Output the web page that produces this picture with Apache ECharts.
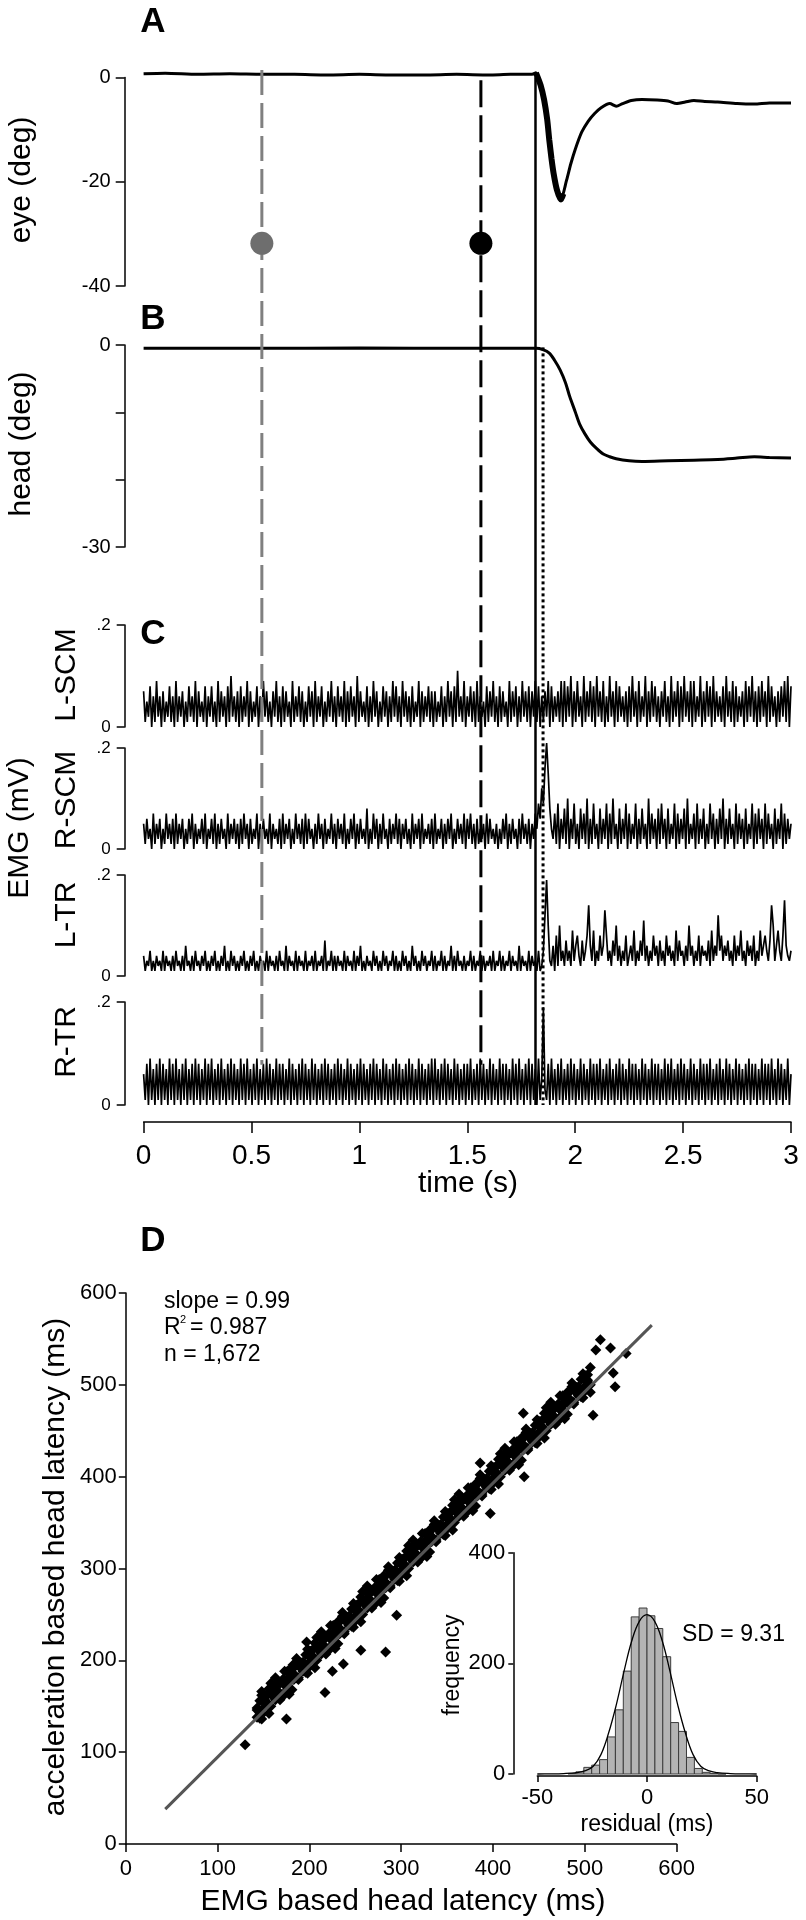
<!DOCTYPE html>
<html><head><meta charset="utf-8">
<script src="https://cdn.jsdelivr.net/npm/echarts@6/dist/echarts.min.js"></script>
<style>html,body{margin:0;padding:0;background:#fff}#c{width:806px;height:1920px}</style>
</head><body><div id="c"></div><script>
// ---------- Panel A: eye position (deg) vs time (s) ----------
const eyeTrace = [[0,0.7],[0.1,0.8],[0.25,0.6],[0.4,0.7],[0.55,0.6],[0.7,0.6],[0.85,0.5],[1.0,0.6],[1.15,0.5],[1.3,0.5],[1.45,0.6],[1.6,0.5],[1.7,0.6],[1.8,0.6],[1.818,0.9],[1.84,-1.5],[1.856,-4.3],[1.87,-8],[1.88,-12],[1.89,-15.5],[1.9,-18.4],[1.915,-21.5],[1.934,-23.4],[1.96,-19.7],[1.98,-16.5],[2.0,-13.8],[2.03,-10.5],[2.06,-8.4],[2.09,-6.9],[2.12,-5.8],[2.16,-5.0],[2.19,-5.5],[2.22,-5.0],[2.26,-4.4],[2.31,-4.2],[2.38,-4.3],[2.43,-4.5],[2.47,-5.0],[2.51,-4.7],[2.55,-4.4],[2.6,-4.6],[2.66,-4.7],[2.75,-5.0],[2.83,-5.1],[2.9,-4.9],[3.0,-4.9]];
const eyeSaccade = [[1.818,0.9],[1.84,-1.5],[1.856,-4.3],[1.87,-8],[1.88,-12],[1.89,-15.5],[1.9,-18.4],[1.915,-21.5],[1.934,-23.4],[1.945,-22.3]];
const targetTimes = [0.548, 1.563];
const targetEye = [-31.8, -31.8];
// ---------- Panel B: head position (deg) ----------
const headTrace = [[0,-0.5],[0.5,-0.5],[1,-0.45],[1.5,-0.5],[1.82,-0.5],[1.85,-0.7],[1.88,-1.2],[1.905,-2.3],[1.93,-3.7],[1.955,-5.6],[1.975,-7.7],[2.0,-9.9],[2.02,-11.7],[2.045,-13.2],[2.07,-14.4],[2.1,-15.4],[2.13,-16.2],[2.16,-16.6],[2.19,-16.9],[2.25,-17.2],[2.31,-17.3],[2.43,-17.2],[2.55,-17.1],[2.66,-17.0],[2.75,-16.8],[2.83,-16.6],[2.9,-16.7],[3.0,-16.8]];
// ---------- Panel C: EMG, units of 0.01 mV, sampled every emgDt s ----------
const emgDt = 0.0075;
const emgLSCM = [7,1,5,2,8,0,6,1,9,2,6,0,7,1,5,2,8,1,6,0,9,1,6,2,7,0,5,1,8,2,6,1,9,0,7,2,5,1,8,0,6,2,8,1,5,0,9,1,7,2,6,0,8,1,10,2,6,1,7,0,8,1,6,2,9,0,7,1,5,2,8,0,6,1,9,2,7,1,5,0,7,2,9,1,6,0,8,1,7,2,5,0,9,1,6,2,8,1,7,0,5,1,8,2,7,0,9,1,6,2,8,0,5,1,7,2,9,1,6,0,8,2,6,1,9,0,7,1,8,2,6,0,10,1,7,2,5,1,8,0,6,1,9,2,7,0,5,1,8,2,7,0,6,1,9,2,8,1,6,0,9,2,7,1,6,0,8,1,5,2,9,0,7,1,6,2,8,1,7,0,7,1,5,2,8,0,6,1,9,2,7,0,8,1,11,2,6,1,9,0,6,2,8,1,7,0,9,1,6,2,5,0,8,1,7,2,9,1,6,0,8,1,7,2,5,0,9,1,7,2,8,0,6,1,9,2,7,1,8,0,7,2,9,1,8,0,6,1,7,2,9,0,8,1,6,2,7,1,9,0,9,1,8,2,10,0,7,1,9,2,6,0,10,1,7,2,9,1,8,0,10,2,7,1,9,0,6,1,10,2,7,0,9,1,8,2,6,1,7,0,8,1,10,2,7,0,9,1,6,2,10,0,7,1,9,2,8,1,6,0,7,2,9,1,6,0,10,1,7,2,9,0,8,1,10,2,7,1,9,0,9,1,6,2,10,0,7,1,9,2,8,0,10,1,7,2,6,1,8,0,10,2,7,1,9,0,8,1,6,2,7,0,9,1,8,2,10,1,7,0,8,1,9,2,7,0,10,1,8,2,6,0,7,1,8,2,9,1,10,0,8];
const emgRSCM = [5,1,6,2,4,0,7,1,5,2,6,0,4,1,7,2,5,1,6,0,7,1,5,2,6,0,4,1,6,2,7,0,5,1,4,2,6,1,7,0,4,2,6,1,7,0,5,1,6,2,4,0,7,1,5,2,6,1,5,0,6,1,7,2,5,0,6,1,4,2,7,0,5,1,6,2,4,1,7,0,5,2,4,1,6,0,7,1,5,2,6,0,4,1,7,2,5,1,6,0,7,1,6,2,4,0,5,1,7,2,5,0,6,1,4,2,7,1,5,0,6,2,5,1,7,0,4,1,6,2,7,0,5,1,6,2,4,1,8,0,4,1,7,2,6,0,5,1,7,2,4,0,6,1,5,2,7,1,6,0,5,2,6,1,4,0,7,1,5,2,6,0,7,1,4,2,5,1,6,0,7,1,4,2,6,0,5,1,6,2,7,0,4,1,6,2,5,1,7,0,6,2,7,1,5,0,6,1,4,2,5,0,7,1,6,2,4,1,5,0,4,1,6,2,7,0,5,1,6,2,4,0,6,1,7,2,5,1,6,0,5,2,7,4,9,6,12,9,16,21,15,8,4,2,7,1,9,0,6,2,8,1,10,0,6,2,9,1,5,0,8,2,7,1,10,0,6,1,9,2,5,0,8,1,6,2,9,0,7,1,10,2,5,0,8,1,6,2,9,0,7,1,5,2,9,0,6,1,8,2,5,0,10,1,7,2,6,0,8,1,9,2,6,0,8,1,5,2,9,0,7,1,6,2,8,0,10,1,5,2,7,0,9,1,6,2,8,0,5,1,9,2,7,0,6,1,8,2,10,0,6,1,8,2,5,0,9,1,7,2,6,0,8,1,5,2,9,0,7,1,8,2,6,0,9,1,7,2,5,0,8,1,6,2,9,0,7,1,6,2,5];
const emgLTR = [4,1,3,2,5,1,3,1,4,2,3,1,5,1,4,2,3,1,4,1,5,2,3,1,4,1,6,2,3,1,4,1,5,2,3,1,4,2,5,1,3,1,4,2,5,1,3,1,4,2,6,1,3,1,5,2,4,1,3,1,4,2,5,1,3,1,4,2,5,1,3,1,4,2,3,1,5,1,4,2,3,1,4,1,5,2,3,1,6,1,4,2,3,1,5,1,4,2,3,1,5,1,3,2,4,1,5,1,3,2,4,1,7,1,3,2,5,1,4,1,4,2,3,1,5,1,4,2,3,1,5,1,4,2,6,1,3,1,4,2,3,1,5,2,4,1,3,1,5,2,4,1,3,2,5,1,4,1,3,1,5,2,4,1,3,1,6,2,4,1,3,1,5,2,4,1,3,2,5,1,4,1,3,2,5,1,4,1,3,2,6,1,4,1,5,2,3,1,4,1,3,2,5,1,4,1,3,2,5,1,4,1,3,2,4,1,5,1,3,2,5,1,4,1,3,2,5,1,4,2,3,1,6,1,4,2,3,1,5,1,4,2,3,1,5,1,2,5,12,19,10,3,2,6,1,8,2,10,3,5,2,7,3,5,2,9,3,6,8,4,2,7,3,5,8,14,6,3,9,2,5,3,8,4,6,13,8,3,5,2,7,4,10,3,6,2,5,3,8,2,4,6,3,9,2,5,3,7,4,11,3,6,2,5,3,8,4,6,2,7,3,5,2,8,4,6,3,5,2,9,3,7,4,5,2,6,3,10,4,6,2,5,3,8,2,6,4,5,3,7,2,9,3,6,4,12,5,8,3,6,4,7,3,5,2,8,3,6,4,9,3,5,2,7,4,6,3,8,2,5,3,9,4,6,8,5,3,7,14,10,3,6,9,5,3,8,15,6,4,3,5];
const emgRTR = [6,1,8,0,9,1,7,0,8,1,9,0,8,1,7,0,9,1,8,0,9,1,7,0,8,1,9,0,7,1,8,0,9,1,8,0,7,1,9,0,8,1,9,0,7,1,8,0,9,1,7,0,8,1,9,0,8,1,7,0,9,1,8,0,9,1,7,0,8,1,9,0,7,1,8,0,9,1,8,0,7,1,9,0,8,1,8,0,7,1,9,0,8,1,7,0,8,1,9,0,8,1,7,0,9,1,8,0,7,1,8,0,9,1,8,0,7,1,8,0,9,1,8,0,7,1,9,0,8,1,7,0,8,1,9,0,8,1,7,0,8,1,9,0,8,1,7,0,9,1,8,0,7,1,8,0,9,1,8,0,7,1,8,0,9,1,8,0,7,1,9,0,8,1,7,0,8,1,9,0,9,1,7,0,8,1,9,0,8,1,7,0,9,1,8,0,7,1,8,0,8,1,9,0,7,1,8,0,9,1,8,0,7,1,9,0,8,1,7,0,9,1,8,0,8,1,7,0,9,1,8,0,9,1,7,0,8,1,9,0,8,1,7,0,9,1,5,19,3,1,8,0,9,1,7,0,8,1,9,0,7,1,8,0,9,1,8,0,7,1,9,0,8,1,7,0,9,1,8,0,8,1,9,0,7,1,8,0,9,1,7,0,8,1,9,0,8,1,7,0,9,1,8,0,8,1,7,0,9,1,8,0,7,1,9,0,8,1,8,0,7,1,9,0,8,1,9,0,7,1,8,0,9,1,8,0,7,1,9,0,8,1,7,0,9,1,8,0,8,1,9,0,7,1,8,0,9,1,7,0,9,1,8,0,7,1,9,0,8,1,7,0,8,1,9,0,8,1,8,0,7,1,9,0,8,1,8,0,9,1,7,0,9,1,8,0,7,1,9,0,6];
// ---------- event markers (vertical lines through A-C) ----------
const eventTimes = [0.548, 1.563, 1.816, 1.851];
const eventTop = [1.0, 0.990, 0.993, 0.732];      // fraction of A-C stack height
const eventBottom = [0.039, 0.039, 0, 0];
// ---------- Panel D: scatter of latencies (ms) [EMG, acceleration] ----------
const latencyPairs = [[143,146],[143,138],[146,137],[146,156],[148,162],[148,136],[151,149],[151,157],[153,161],[153,152],[156,142],[156,169],[158,175],[158,150],[161,162],[161,165],[163,157],[163,181],[166,177],[166,163],[168,157],[168,175],[171,176],[171,161],[173,188],[173,173],[176,172],[176,188],[178,187],[178,163],[181,168],[181,190],[183,185],[183,179],[186,198],[186,202],[188,181],[188,179],[191,197],[191,193],[193,196],[193,188],[196,187],[196,206],[198,212],[198,186],[201,199],[201,207],[203,211],[203,202],[206,192],[206,219],[208,225],[208,200],[211,212],[211,215],[213,207],[213,231],[216,227],[216,213],[218,207],[218,225],[221,226],[221,211],[223,238],[223,223],[226,222],[226,238],[228,237],[228,213],[231,218],[231,240],[233,235],[233,229],[236,248],[236,252],[238,231],[238,229],[241,247],[241,243],[243,246],[243,238],[246,237],[246,256],[248,262],[248,236],[251,249],[251,257],[253,261],[253,252],[256,242],[256,269],[258,275],[258,250],[261,262],[261,265],[263,257],[263,281],[266,277],[266,263],[268,257],[268,275],[271,276],[271,261],[273,288],[273,273],[276,272],[276,288],[278,287],[278,263],[281,268],[281,290],[283,285],[283,279],[286,298],[286,302],[288,281],[288,279],[291,297],[291,293],[293,296],[293,288],[296,287],[296,306],[298,312],[298,286],[301,299],[301,307],[303,311],[303,302],[306,292],[306,319],[308,325],[308,300],[311,312],[311,315],[313,307],[313,331],[316,327],[316,313],[318,307],[318,325],[321,326],[321,311],[323,338],[323,323],[326,322],[326,338],[328,337],[328,313],[331,318],[331,340],[333,335],[333,329],[336,348],[336,352],[338,331],[338,329],[341,347],[341,343],[343,346],[343,338],[346,337],[346,356],[348,362],[348,336],[351,349],[351,357],[353,361],[353,352],[356,342],[356,369],[358,375],[358,350],[361,362],[361,365],[363,357],[363,381],[366,377],[366,363],[368,357],[368,375],[371,376],[371,361],[373,388],[373,373],[376,372],[376,388],[378,387],[378,363],[381,368],[381,390],[383,385],[383,379],[386,398],[386,402],[388,381],[388,379],[391,397],[391,393],[393,396],[393,388],[396,387],[396,406],[398,412],[398,386],[401,399],[401,407],[403,411],[403,402],[406,392],[406,419],[408,425],[408,400],[411,412],[411,415],[413,407],[413,431],[416,427],[416,413],[418,407],[418,425],[421,426],[421,411],[423,438],[423,423],[426,422],[426,438],[428,437],[428,413],[431,418],[431,440],[433,435],[433,429],[436,448],[436,452],[438,431],[438,429],[441,447],[441,443],[443,446],[443,438],[446,437],[446,456],[448,462],[448,436],[451,449],[451,457],[453,461],[453,452],[456,442],[456,469],[458,475],[458,450],[461,462],[461,465],[463,457],[463,481],[466,477],[466,463],[468,457],[468,475],[471,476],[471,461],[473,488],[473,473],[476,472],[476,488],[478,487],[478,463],[481,468],[481,490],[483,485],[483,479],[486,498],[486,502],[488,481],[488,479],[491,497],[491,493],[493,496],[493,488],[496,487],[496,506],[498,512],[498,486],[501,499],[501,507],[503,511],[503,502],[506,492],[506,519],[143,148],[146,143],[148,141],[151,160],[153,155],[156,150],[158,165],[161,160],[163,173],[166,166],[168,164],[171,179],[173,165],[176,180],[178,179],[181,192],[183,181],[186,181],[188,194],[191,194],[193,198],[196,193],[198,191],[201,210],[203,205],[206,200],[208,215],[211,210],[213,223],[216,216],[218,214],[221,229],[223,215],[226,230],[228,229],[231,242],[233,231],[236,231],[238,244],[241,244],[243,248],[246,243],[248,241],[251,260],[253,255],[256,250],[258,265],[261,260],[263,273],[266,266],[268,264],[271,279],[273,265],[276,280],[278,279],[281,292],[283,281],[286,281],[288,294],[291,294],[293,298],[296,293],[298,291],[301,310],[303,305],[306,300],[308,315],[311,310],[313,323],[316,316],[318,314],[321,329],[323,315],[326,330],[328,329],[331,342],[333,331],[336,331],[338,344],[341,344],[343,348],[346,343],[348,341],[351,360],[353,355],[356,350],[358,365],[361,360],[363,373],[366,366],[368,364],[371,379],[373,365],[376,380],[378,379],[381,392],[383,381],[386,381],[388,394],[391,394],[393,398],[396,393],[398,391],[401,410],[403,405],[406,400],[408,415],[411,410],[413,423],[416,416],[418,414],[421,429],[423,415],[426,430],[428,429],[431,442],[433,431],[436,431],[438,444],[441,444],[443,448],[446,443],[448,441],[451,460],[453,455],[456,450],[458,465],[461,460],[463,473],[466,466],[468,464],[471,479],[473,465],[476,480],[478,479],[481,492],[483,481],[486,481],[488,494],[491,494],[493,498],[496,493],[498,491],[501,510],[503,505],[506,500],[130,108],[148,166],[175,136],[217,165],[225,188],[237,196],[256,211],[283,209],[295,249],[182,195],[197,220],[517,549],[528,540],[512,538],[545,534],[531,513],[533,498],[509,467],[433,469],[386,415],[434,400],[397,360]];
const fitLine = [[43,38],[573,565]];
// ---------- inset: residual histogram ----------
const histLo =  [-36,-32.4,-28.8,-25.2,-21.6,-18,-14.4,-10.8,-7.2,-3.6,0,3.6,7.2,10.8,14.4,18,21.6,25.2,28.8,32.4];
const histHi =  [-32.4,-28.8,-25.2,-21.6,-18,-14.4,-10.8,-7.2,-3.6,0,3.6,7.2,10.8,14.4,18,21.6,25.2,28.8,32.4,36];
const histCount=[1,4,12,16,26,67,116,186,284,300,286,263,212,93,77,30,10,3,1,0];
const fitCurve = [[-50,0],[-45,0.2],[-38,0.8],[-32,2.5],[-28,6],[-24.5,14],[-21,35],[-17.5,74],[-14,125],[-10.5,185],[-7,240],[-3.5,276],[0,288],[3.5,276],[7,240],[10.5,185],[14,125],[17.5,74],[21,35],[24.5,14],[28,6],[32,2.5],[38,0.8],[45,0.2],[50,0]];

// ---------- layout ----------
const FONT = '"Liberation Sans", Arial, Helvetica, sans-serif';
const X0 = 143.6, XW = 647.4, AX = 124.7;           // t=0 px, width of 0..3 s, y-axis line px
const HX0 = 537.3, HXW = 219.4, HAX = 513.3;        // inset: -50 px, width of -50..50, y-axis line px
const panels = [[77.5,208.5,-40,0],[345,202,-30,0],[625,102,0,20],[748,101,0,20],[875,101,0,20],[1002,103,0,20]]; // [top, height, yMin, yMax]
const G = (l, t, w, h) => ({left:l, top:t, width:w, height:h, show:false, outerBoundsMode:'none', containLabel:false});
const grid = [];
panels.forEach(p => grid.push(G(X0, p[0], XW, p[1])));      // 0-5 data
grid.push(G(X0, 70, XW, 1035));                             // 6 overlay (event lines)
grid.push(G(125.8, 1293, 550.8, 551));                      // 7 D
grid.push(G(HX0, 1552.7, HXW, 221.3));                      // 8 inset bars
grid.push(G(X0, 1105, XW, 17));                             // 9 time axis
grid.push(G(HX0, 1552.7, HXW, 223.3));                      // 10 residual axis
panels.forEach(p => grid.push(G(AX, p[0], X0 - AX, p[1]))); // 11-16 y-axes of A-C
grid.push(G(HAX, 1552.7, HX0 - HAX, 221.3));                // 17 inset y-axis

const mkLine = () => ({show:true, onZero:false, lineStyle:{color:'#000', width:1.5}});
const tick = (len) => ({show:true, inside:false, length:len, lineStyle:{color:'#000', width:1.5}});
const lbl = (size, margin, fmt) => ({show:true, color:'#000', fontSize:size, fontFamily:FONT, margin:margin, formatter:fmt});
const hid = (gi, min, max) => ({gridIndex:gi, type:'value', min:min, max:max, show:true,
  axisLine:{show:false, onZero:false}, axisTick:{show:false}, axisLabel:{show:false},
  splitLine:{show:false}, splitArea:{show:false}, minorTick:{show:false}, minorSplitLine:{show:false}});
const shown = (gi, min, max, interval, size, tl, margin, fmt) => ({gridIndex:gi, type:'value', min:min, max:max, interval:interval,
  axisLine:mkLine(), axisTick:tick(tl), axisLabel:lbl(size, margin, fmt), splitLine:{show:false}, splitArea:{show:false}});
const xAxis = [], yAxis = [];
for (let i = 0; i < 7; i++) xAxis.push(hid(i, 0, 3));
xAxis.push(shown(7, 0, 600, 100, 22, 8, 14));
xAxis.push(hid(8, -50, 50));
xAxis.push(shown(9, 0, 3, 0.5, 28, 11, 20));
xAxis.push(shown(10, -50, 50, 50, 22, 6, 11));
for (let i = 11; i < 18; i++) xAxis.push(hid(i, 0, 1));
panels.forEach((p, i) => yAxis.push(hid(i, p[2], p[3])));
yAxis.push(hid(6, 0, 1));
yAxis.push(shown(7, 0, 600, 100, 22, 7, 9));
yAxis.push(hid(8, 0, 400));
yAxis.push(hid(9, 0, 1));
yAxis.push(hid(10, 0, 1));
const emgFmt = v => v === 20 ? '.2' : '0';
yAxis.push(shown(11, -40, 0, 20, 20, 9, 14));
yAxis.push(shown(12, -30, 0, 10, 20, 9, 14, v => (v === 0 || v === -30) ? String(v) : ''));
for (let i = 13; i < 17; i++) yAxis.push(shown(i, 0, 20, 20, 17, 8, 14, emgFmt));
yAxis.push(shown(17, 0, 400, 200, 22, 5, 8));

// ---------- series ----------
const series = [];
const lineS = (gi, data, width, color, extra) => Object.assign({type:'line', xAxisIndex:gi, yAxisIndex:gi, data:data, showSymbol:false, symbol:'none',
  clip:false, lineStyle:{color:color || '#000', width:width}, silent:true, animation:false}, extra || {});
series.push(lineS(0, eyeTrace, 3, '#000', {smooth:0.25}));
series.push(lineS(0, eyeSaccade, 6, '#000', {smooth:0.25}));
series.push({type:'scatter', xAxisIndex:0, yAxisIndex:0, symbolSize:23, itemStyle:{color:'#6e6e6e', opacity:1}, z:6, data:[[targetTimes[0], targetEye[0]]]});
series.push({type:'scatter', xAxisIndex:0, yAxisIndex:0, symbolSize:23, itemStyle:{color:'#000', opacity:1}, z:6, data:[[targetTimes[1], targetEye[1]]]});
series.push(lineS(1, headTrace, 3, '#000', {smooth:0.3}));
[emgLSCM, emgRSCM, emgLTR, emgRTR].forEach((arr, k) => {
  series.push(lineS(2 + k, arr.map((v, i) => [i * emgDt, v]), 1.7, '#000'));
});
const evStyle = [{color:'#808080', width:3, type:[25, 8]},{color:'#000', width:3, type:[27, 8]},{color:'#000', width:2.5, type:'solid'},{color:'#000', width:3, type:[3, 3]}];
eventTimes.forEach((t, k) => {
  series.push(Object.assign(lineS(6, [[t, eventTop[k]], [t, eventBottom[k]]], 3), {lineStyle:evStyle[k], z:5}));
});
series.push({type:'scatter', xAxisIndex:7, yAxisIndex:7, symbol:'diamond', symbolSize:11, itemStyle:{color:'#000', opacity:1}, data:latencyPairs, silent:true, animation:false, large:false});
series.push(Object.assign(lineS(7, fitLine, 3, '#555'), {z:4}));
series.push({type:'custom', xAxisIndex:8, yAxisIndex:8, silent:true, animation:false,
  data: histLo.map((lo, i) => [lo, histHi[i], histCount[i]]), encode:{x:[0, 1], y:2},
  renderItem:(params, api) => {
    const p0 = api.coord([api.value(0), api.value(2)]);
    const p1 = api.coord([api.value(1), 0]);
    return {type:'rect', shape:{x:p0[0], y:p0[1], width:p1[0] - p0[0], height:p1[1] - p0[1]}, style:{fill:'#b4b4b4', stroke:'#3c3c3c', lineWidth:1}};
  }});
series.push(Object.assign(lineS(8, fitCurve, 1.3, '#000', {smooth:0.4}), {z:5}));

// ---------- texts ----------
const txt = (x, y, text, size, opts) => Object.assign({type:'text', x:x, y:y, z:100,
  style:{text:text, font:(opts && opts.bold ? 'bold ' : '') + size + 'px ' + FONT, fill:'#000',
    textAlign:(opts && opts.align) || 'center', textVerticalAlign:'middle'}},
  opts && opts.rot ? {rotation:Math.PI / 2} : {});
const graphic = [
  txt(153, 22, 'A', 35, {bold:true}), txt(153, 319, 'B', 35, {bold:true}), txt(153, 634, 'C', 35, {bold:true}), txt(153, 1241, 'D', 35, {bold:true}),
  txt(22, 180, 'eye (deg)', 30, {rot:true}), txt(22, 444, 'head (deg)', 30, {rot:true}), txt(20, 828, 'EMG (mV)', 30, {rot:true}),
  txt(66.5, 675, 'L-SCM', 30, {rot:true}), txt(66.5, 800, 'R-SCM', 30, {rot:true}), txt(66.5, 915, 'L-TR', 30, {rot:true}), txt(66.5, 1042, 'R-TR', 30, {rot:true}),
  txt(468, 1184, 'time (s)', 30),
  txt(164, 1302, 'slope = 0.99', 23, {align:'left'}), txt(164, 1328, 'R', 23, {align:'left'}), txt(180, 1320, '2', 11, {align:'left'}),
  txt(190, 1328, '= 0.987', 23, {align:'left'}), txt(164, 1355, 'n = 1,672', 23, {align:'left'}),
  txt(56, 1567, 'acceleration based head latency (ms)', 30, {rot:true}), txt(403, 1902, 'EMG based head latency (ms)', 30),
  txt(453, 1665, 'frequency', 23, {rot:true}), txt(647, 1825, 'residual (ms)', 23), txt(682, 1635, 'SD = 9.31', 23, {align:'left'})
];
const chart = echarts.init(document.getElementById('c'), null, {renderer:'canvas'});
chart.setOption({animation:false, backgroundColor:'#fff', textStyle:{fontFamily:FONT}, grid:grid, xAxis:xAxis, yAxis:yAxis, series:series, graphic:graphic});
</script></body></html>
